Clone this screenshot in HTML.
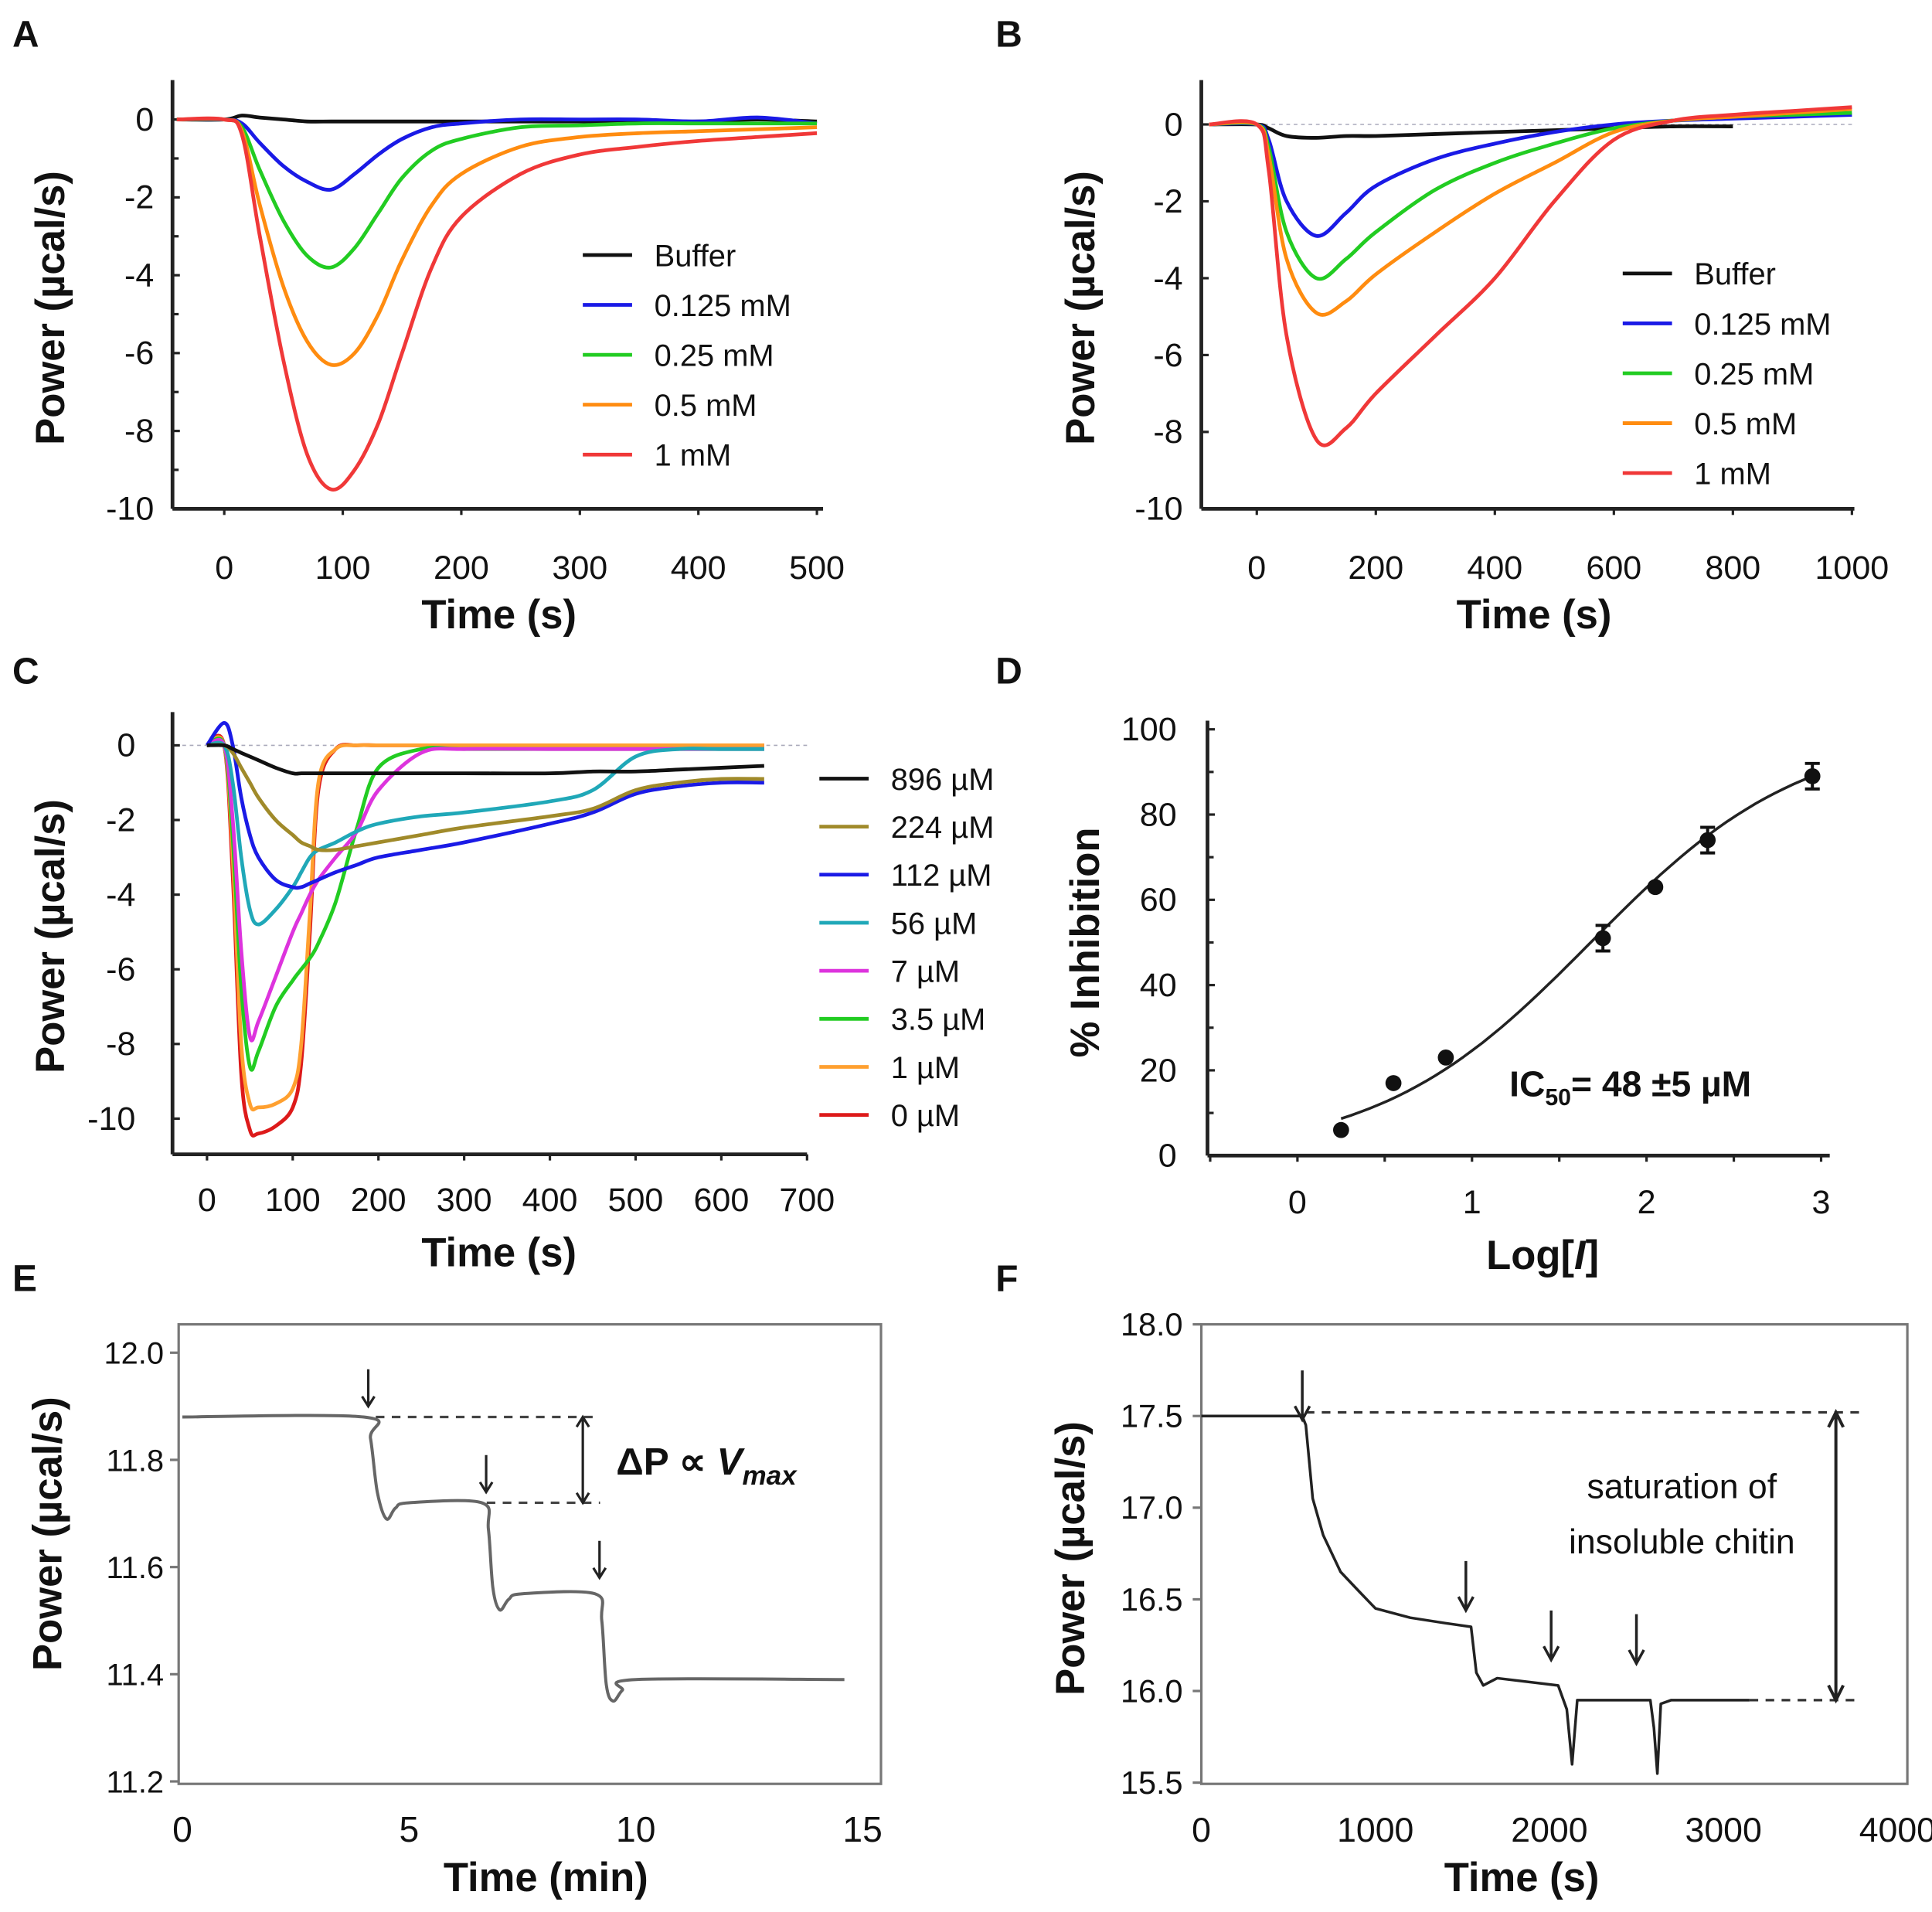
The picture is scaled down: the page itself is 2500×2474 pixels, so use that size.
<!DOCTYPE html>
<html><head><meta charset="utf-8"><style>
html,body{margin:0;padding:0;background:#fff}
svg{display:block}
text{font-family:"Liberation Sans",Arial,sans-serif;fill:#111}
</style></head><body>
<svg id="fig" width="2500" height="2474" viewBox="0 0 1568 1552" preserveAspectRatio="none" xmlns="http://www.w3.org/2000/svg"></svg>
<script>
// ---------- Panel A data ----------
const aTimes=[-40,0,15,30,50,70,90,110,130,150,175,200,250,300,350,400,450,500];
const aBuffer=[0,0,0.1,0.05,0,-0.05,-0.05,-0.05,-0.05,-0.05,-0.05,-0.05,-0.05,-0.05,-0.05,-0.05,0,-0.05];
const a0125=[0,0,-0.1,-0.6,-1.2,-1.6,-1.8,-1.4,-0.9,-0.5,-0.2,-0.1,0,0,0,-0.05,0.05,-0.1];
const a025=[0,0,-0.2,-1.3,-2.6,-3.5,-3.8,-3.3,-2.4,-1.5,-0.8,-0.5,-0.2,-0.15,-0.1,-0.1,-0.1,-0.1];
const a05=[0,0,-0.3,-2.2,-4.3,-5.7,-6.3,-6.0,-5.0,-3.6,-2.2,-1.4,-0.7,-0.45,-0.35,-0.3,-0.25,-0.2];
const a1=[0,0,-0.4,-3.0,-6.2,-8.6,-9.5,-9.0,-7.8,-6.0,-3.8,-2.5,-1.4,-0.9,-0.7,-0.55,-0.45,-0.35];
// ---------- Panel B data ----------
const bTimes=[-80,0,20,50,100,150,200,300,400,500,600,700,800,900,1000];
const bBuffer=[0,0,-0.1,-0.3,-0.35,-0.3,-0.3,-0.25,-0.2,-0.15,-0.1,-0.05,-0.05,null,null];
const b0125=[0,0,-0.4,-2.0,-2.9,-2.3,-1.6,-0.9,-0.5,-0.2,0,0.1,0.15,0.2,0.25];
const b025=[0,0,-0.6,-2.8,-4.0,-3.5,-2.8,-1.7,-1.0,-0.5,-0.1,0.1,0.2,0.25,0.3];
const b05=[0,0,-0.8,-3.5,-4.9,-4.6,-3.9,-2.8,-1.8,-1.0,-0.2,0.1,0.2,0.3,0.4];
const b1=[0,0,-1.2,-5.5,-8.2,-7.9,-7.0,-5.5,-4.0,-2.0,-0.4,0.1,0.25,0.35,0.45];
// ---------- Panel C data ----------
const cTimes=[0,20,30,40,50,60,80,100,110,120,130,150,175,200,250,300,400,450,500,550,600,650];
const c896=[0,0,-0.1,-0.2,-0.3,-0.4,-0.6,-0.75,-0.75,-0.75,-0.75,-0.75,-0.75,-0.75,-0.75,-0.75,-0.75,-0.7,-0.7,-0.65,-0.6,-0.55];
const c224=[0,0,-0.2,-0.6,-1.0,-1.4,-2.0,-2.4,-2.6,-2.7,-2.8,-2.8,-2.7,-2.6,-2.4,-2.2,-1.9,-1.7,-1.2,-1.0,-0.9,-0.9];
const c112=[0,0.6,0,-1.4,-2.4,-3.0,-3.6,-3.8,-3.8,-3.7,-3.6,-3.4,-3.2,-3.0,-2.8,-2.6,-2.1,-1.8,-1.3,-1.1,-1.0,-1.0];
const c56=[0,0,-1.0,-3.0,-4.4,-4.8,-4.4,-3.8,-3.4,-3.0,-2.8,-2.6,-2.3,-2.1,-1.9,-1.8,-1.5,-1.2,-0.3,-0.1,-0.1,-0.1];
const c7=[0,0,-2.0,-5.5,-7.8,-7.4,-6.2,-5.0,-4.5,-4.0,-3.6,-3.0,-2.3,-1.2,-0.2,-0.1,-0.1,-0.1,-0.1,-0.1,-0.1,-0.1];
const c35=[0,0,-2.5,-6.5,-8.6,-8.2,-7.0,-6.3,-6.0,-5.7,-5.3,-4.2,-2.2,-0.6,-0.1,-0.1,-0.1,-0.1,-0.1,-0.1,-0.1,-0.1];
const c1=[0,0,-3.0,-8.0,-9.6,-9.7,-9.6,-9.2,-8.0,-4.5,-1.0,-0.1,0,0,0,0,0,0,0,0,0,0];
const c0=[0,0,-3.5,-8.8,-10.3,-10.4,-10.2,-9.7,-8.5,-5.0,-1.2,-0.1,0,0,0,0,0,0,0,0,0,0];
// ---------- Panel D data ----------
const dLog=[0.25,0.55,0.85,1.75,2.05,2.35,2.95];
const dInh=[6,17,23,51,63,74,89];
const dErr=[0,0,0,3,0,3,3];
const dIC50Log=1.68, dHill=0.715;
// ---------- Panel E data ----------
const eTimes=[0,4.0,4.15,4.3,4.5,4.7,5.0,6.6,6.75,6.85,7.0,7.2,7.5,9.1,9.25,9.35,9.5,9.7,10.0,14.6];
const ePow=[11.88,11.88,11.84,11.74,11.69,11.71,11.72,11.72,11.67,11.56,11.52,11.54,11.55,11.55,11.5,11.38,11.35,11.37,11.39,11.39];
const eArrowT=[4.1,6.7,9.2];
const eArrowLvl=[11.9,11.74,11.58];
// ---------- Panel F data ----------
const fTimes=[0,580,600,640,700,800,900,1000,1200,1400,1550,1580,1620,1700,2050,2100,2130,2160,2250,2580,2600,2620,2640,2700,3150];
const fPow=[17.5,17.5,17.45,17.05,16.85,16.65,16.55,16.45,16.4,16.37,16.35,16.1,16.03,16.07,16.03,15.9,15.6,15.95,15.95,15.95,15.8,15.55,15.93,15.95,15.95];
const fArrowT=[580,1520,2010,2500];
const fArrowLvl=[17.48,16.44,16.17,16.15];

const NS="http://www.w3.org/2000/svg";
const svg=document.getElementById('fig');
function el(tag,attrs,parent,txt){const e=document.createElementNS(NS,tag);for(const k in attrs)e.setAttribute(k,attrs[k]);if(txt!==undefined)e.textContent=txt;(parent||svg).appendChild(e);return e;}
function lin(d0,d1,p0,p1){return v=>p0+(v-d0)*(p1-p0)/(d1-d0);}
function pathFrom(xs,ys,sx,sy){let d='';let pen=false;for(let i=0;i<xs.length;i++){if(ys[i]===null){pen=false;continue;}d+=(pen?'L':'M')+sx(xs[i]).toFixed(1)+','+sy(ys[i]).toFixed(1);pen=true;}return d;}
function smooth(xs,ys,sx,sy){
 const p=xs.map((x,i)=>ys[i]===null?null:[sx(x),sy(ys[i])]).filter(q=>q);let d='M'+p[0][0]+','+p[0][1];
 for(let i=0;i<p.length-1;i++){const p0=p[i-1]||p[i],p1=p[i],p2=p[i+1],p3=p[i+2]||p2;
 d+=' C'+(p1[0]+(p2[0]-p0[0])/6).toFixed(1)+','+(p1[1]+(p2[1]-p0[1])/6).toFixed(1)+' '+(p2[0]-(p3[0]-p1[0])/6).toFixed(1)+','+(p2[1]-(p3[1]-p1[1])/6).toFixed(1)+' '+p2[0].toFixed(1)+','+p2[1].toFixed(1);}
 return d;}
function panelLetter(t,x,y){const e=el('text',{x:x,y:y,'font-size':30,'font-weight':'bold'},svg,t);}
function ylabel(t,x,y,name){const e=el('text',{x:0,y:0,transform:`translate(${x},${y}) rotate(-90)`,'font-size':33,'font-weight':'bold','text-anchor':'middle'},svg,t);}
function xlabel(t,x,y,name){const e=el('text',{x:x,y:y,'font-size':33,'font-weight':'bold','text-anchor':'middle'},svg,t);}
function series(g,d,color,name,w){const e=el('path',{d:d,fill:'none',stroke:color,'stroke-width':w||3,'stroke-linejoin':'round'},g);}
function legend(g,x,y,dy,items,fs){items.forEach((it,i)=>{const l=el('line',{x1:x,x2:x+40,y1:y+i*dy,y2:y+i*dy,stroke:it[1],'stroke-width':3},g);const t=el('text',{x:x+58,y:y+i*dy+9,'font-size':fs||25,fill:'#222'},g,it[0]);});}
function axesLines(g,x0,y0,x1,ytop,xt,sx,yt,sy,xlabs,ylabs,ylx,xly,fs){
 el('line',{x1:x0,x2:x0,y1:ytop,y2:y0,stroke:'#222','stroke-width':3},g);
 el('line',{x1:x0,x2:x1,y1:y0,y2:y0,stroke:'#222','stroke-width':3},g);
 xt.forEach((v,i)=>{el('line',{x1:sx(v),x2:sx(v),y1:y0,y2:y0+5,stroke:'#222','stroke-width':2},g);const t=el('text',{x:sx(v),y:xly,'font-size':fs||27,'text-anchor':'middle'},g,xlabs[i]);});
 yt.forEach((v,i)=>{el('line',{x1:x0,x2:x0+6,y1:sy(v),y2:sy(v),stroke:'#222','stroke-width':2},g);const t=el('text',{x:ylx,y:sy(v)+9,'font-size':fs||27,'text-anchor':'end'},g,ylabs[i]);});
}

// ===== Panel A =====
(function(){const g=el('g',{});
 const sx=lin(0,500,182,663),sy=lin(0,-10,97,413);
 axesLines(g,140,413,668,65,[0,100,200,300,400,500],sx,[0,-2,-4,-6,-8,-10],sy,['0','100','200','300','400','500'],['0','-2','-4','-6','-8','-10'],125,470);
 [-1,-3,-5,-7,-9].forEach(v=>el('line',{x1:140,x2:145,y1:sy(v),y2:sy(v),stroke:'#222','stroke-width':2},g));
 series(g,smooth(aTimes,aBuffer,sx,sy),'#111','series-buffer');
 series(g,smooth(aTimes,a0125,sx,sy),'#1a1ae6','series-0125mM');
 series(g,smooth(aTimes,a025,sx,sy),'#22cc22','series-025mM');
 series(g,smooth(aTimes,a05,sx,sy),'#ff8c10','series-05mM');
 series(g,smooth(aTimes,a1,sx,sy),'#f03838','series-1mM');
 legend(g,473,207,40.5,[['Buffer','#111'],['0.125 mM','#1a1ae6'],['0.25 mM','#22cc22'],['0.5 mM','#ff8c10'],['1 mM','#f03838']]);
})();
panelLetter('A',10,38);ylabel('Power (µcal/s)',52,250,'y-axis-title-a');xlabel('Time (s)',405,510,'x-axis-title-a');

// ===== Panel B =====
(function(){const g=el('g',{});
 const sx=lin(0,1000,1020,1503),sy=lin(0,-10,101,413);
 el('line',{x1:978,x2:1505,y1:sy(0),y2:sy(0),stroke:'#aab','stroke-width':1,'stroke-dasharray':'3,3'},g);
 axesLines(g,975,413,1505,65,[0,200,400,600,800,1000],sx,[0,-2,-4,-6,-8,-10],sy,['0','200','400','600','800','1000'],['0','-2','-4','-6','-8','-10'],960,470);
 series(g,smooth(bTimes,bBuffer,sx,sy),'#111','series-buffer');
 series(g,smooth(bTimes,b0125,sx,sy),'#1a1ae6','series-0125mM');
 series(g,smooth(bTimes,b025,sx,sy),'#22cc22','series-025mM');
 series(g,smooth(bTimes,b05,sx,sy),'#ff8c10','series-05mM');
 series(g,smooth(bTimes,b1,sx,sy),'#f03838','series-1mM');
 legend(g,1317,222,40.5,[['Buffer','#111'],['0.125 mM','#1a1ae6'],['0.25 mM','#22cc22'],['0.5 mM','#ff8c10'],['1 mM','#f03838']]);
})();
panelLetter('B',808,38);ylabel('Power (µcal/s)',888,250,'y-axis-title-b');xlabel('Time (s)',1245,510,'x-axis-title-b');

// ===== Panel C =====
(function(){const g=el('g',{});
 const sx=lin(0,700,168,655),sy=lin(0,-10,605,908);
 el('line',{x1:142,x2:655,y1:sy(0),y2:sy(0),stroke:'#aab','stroke-width':1,'stroke-dasharray':'3,3'},g);
 axesLines(g,140,937,655,578,[0,100,200,300,400,500,600,700],sx,[0,-2,-4,-6,-8,-10],sy,['0','100','200','300','400','500','600','700'],['0','-2','-4','-6','-8','-10'],110,983);
 const cols=[['896 µM','#111',c896],['224 µM','#a08a2a',c224],['112 µM','#1a1ae6',c112],['56 µM','#20a8b8',c56],['7 µM','#dd33dd',c7],['3.5 µM','#22cc22',c35],['1 µM','#ffa030',c1],['0 µM','#dd1a1a',c0]];
 cols.slice().reverse().forEach(c=>series(g,smooth(cTimes,c[2],sx,sy),c[1],'series-'+c[0].replace(/[^0-9.]/g,'')+'uM'));
 legend(g,665,632,39,cols.map(c=>[c[0],c[1]]));
})();
panelLetter('C',10,555);ylabel('Power (µcal/s)',52,760,'y-axis-title-c');xlabel('Time (s)',405,1028,'x-axis-title-c');

// ===== Panel D =====
(function(){const g=el('g',{});
 const sx=lin(0,3,1053,1478),sy=lin(0,100,938,592);
 axesLines(g,980,938,1485,585,[0,1,2,3],sx,[0,20,40,60,80,100],sy,['0','1','2','3'],['0','20','40','60','80','100'],955,985);
 [-0.5,0.5,1.5,2.5].forEach(v=>el('line',{x1:sx(v),x2:sx(v),y1:938,y2:943,stroke:'#222','stroke-width':2},g));
 [10,30,50,70,90].forEach(v=>el('line',{x1:980,x2:985,y1:sy(v),y2:sy(v),stroke:'#222','stroke-width':2},g));
 const fx=[],fy=[];for(let i=0;i<=50;i++){const l=dLog[0]+(dLog[dLog.length-1]-dLog[0])*i/50;fx.push(l);fy.push(100/(1+Math.pow(10,(dIC50Log-l)*dHill)));}
 series(g,pathFrom(fx,fy,sx,sy),'#222','fit-curve',2.2);
 dLog.forEach((v,i)=>{if(dErr[i]){const e=el('path',{d:`M${sx(v)},${sy(dInh[i]-dErr[i])}V${sy(dInh[i]+dErr[i])}M${sx(v)-6},${sy(dInh[i]-dErr[i])}h12M${sx(v)-6},${sy(dInh[i]+dErr[i])}h12`,stroke:'#111','stroke-width':2.5,fill:'none'},g);}
  const c=el('circle',{cx:sx(v),cy:sy(dInh[i]),r:6.5,fill:'#111'},g);});
 const t=el('text',{x:1225,y:890,'font-size':29,'font-weight':'bold'},g);
 el('tspan',{},t,'IC');el('tspan',{'font-size':19,dy:7},t,'50');el('tspan',{dy:-7},t,'= 48 ±5 µM');
})();
panelLetter('D',808,555);
(function(){const e=el('text',{x:0,y:0,transform:'translate(892,765) rotate(-90)','font-size':33,'font-weight':'bold','text-anchor':'middle'},svg,'% Inhibition');
 const t=el('text',{x:1252,y:1030,'font-size':33,'font-weight':'bold','text-anchor':'middle'},svg);el('tspan',{},t,'Log[');el('tspan',{'font-style':'italic'},t,'I');el('tspan',{},t,']');})();

// ===== Panel E =====
(function(){const g=el('g',{});
 const sx=lin(0,15,148,700),sy=lin(12.0,11.2,1098,1446);
 el('rect',{x:145,y:1075,width:570,height:373,fill:'none',stroke:'#777','stroke-width':2},g);
 [0,5,10,15].forEach(v=>{const t=el('text',{x:sx(v),y:1495,'font-size':29,'text-anchor':'middle'},g,String(v));});
 [12.0,11.8,11.6,11.4,11.2].forEach(v=>{el('line',{x1:145,x2:138,y1:sy(v),y2:sy(v),stroke:'#777','stroke-width':2},g);const t=el('text',{x:133,y:sy(v)+9,'font-size':25,'text-anchor':'end',fill:'#333'},g,v.toFixed(1));});
 series(g,smooth(eTimes,ePow,sx,sy),'#666','trace',2.5);
 eArrowT.forEach((v,i)=>{const tip=sy(eArrowLvl[i]);const a=el('path',{d:`M${sx(v)},${tip-30}V${tip}m-5,-8l5,8l5,-8`,stroke:'#222','stroke-width':2,fill:'none'},g);});
 el('line',{x1:305,x2:487,y1:sy(11.88),y2:sy(11.88),stroke:'#444','stroke-width':2,'stroke-dasharray':'7,6'},g);
 el('line',{x1:395,x2:487,y1:sy(11.72),y2:sy(11.72),stroke:'#444','stroke-width':2,'stroke-dasharray':'7,6'},g);
 el('path',{d:`M473,${sy(11.88)}V${sy(11.72)}M468,${sy(11.88)+8}l5,-8l5,8M468,${sy(11.72)-8}l5,8l5,-8`,stroke:'#222','stroke-width':2,fill:'none'},g);
 const t=el('text',{x:500,y:1197,'font-size':31,'font-weight':'bold'},g);
 el('tspan',{},t,'ΔP ∝ ');el('tspan',{'font-style':'italic'},t,'V');el('tspan',{'font-style':'italic','font-size':22,dy:8},t,'max');
})();
panelLetter('E',10,1048);ylabel('Power (µcal/s)',50,1245,'y-axis-title-e');xlabel('Time (min)',443,1535,'x-axis-title-e');

// ===== Panel F =====
(function(){const g=el('g',{});
 const sx=lin(0,4000,975,1540),sy=lin(18.0,15.5,1075,1447);
 el('rect',{x:975,y:1075,width:573,height:373,fill:'none',stroke:'#777','stroke-width':2},g);
 [0,1000,2000,3000,4000].forEach(v=>{const t=el('text',{x:sx(v),y:1495,'font-size':28,'text-anchor':'middle'},g,String(v));});
 [18.0,17.5,17.0,16.5,16.0,15.5].forEach(v=>{el('line',{x1:975,x2:968,y1:sy(v),y2:sy(v),stroke:'#777','stroke-width':2},g);const t=el('text',{x:960,y:sy(v)+9,'font-size':26,'text-anchor':'end',fill:'#333'},g,v.toFixed(1));});
 series(g,pathFrom(fTimes,fPow,sx,sy),'#222','trace',2.2);
 el('line',{x1:sx(600),x2:1510,y1:sy(17.52),y2:sy(17.52),stroke:'#333','stroke-width':2,'stroke-dasharray':'7,6'},g);
 el('line',{x1:sx(3150),x2:1510,y1:sy(15.95),y2:sy(15.95),stroke:'#333','stroke-width':2,'stroke-dasharray':'7,6'},g);
 const xa=1490;el('path',{d:`M${xa},${sy(17.52)}V${sy(15.95)}M${xa-6},${sy(17.52)+12}l6,-12l6,12M${xa-6},${sy(15.95)-12}l6,12l6,-12`,stroke:'#222','stroke-width':2.5,fill:'none'},g);
 fArrowT.forEach((v,i)=>{const tip=sy(fArrowLvl[i]);const a=el('path',{d:`M${sx(v)},${tip-40}V${tip}m-6,-11l6,11l6,-11`,stroke:'#222','stroke-width':2.2,fill:'none'},g);});
 const t1=el('text',{x:1365,y:1216,'font-size':28,'text-anchor':'middle',fill:'#222'},g,'saturation of');
 const t2=el('text',{x:1365,y:1261,'font-size':28,'text-anchor':'middle',fill:'#222'},g,'insoluble chitin');
})();
panelLetter('F',808,1048);ylabel('Power (µcal/s)',880,1265,'y-axis-title-f');xlabel('Time (s)',1235,1535,'x-axis-title-f');
</script>
</body></html>
